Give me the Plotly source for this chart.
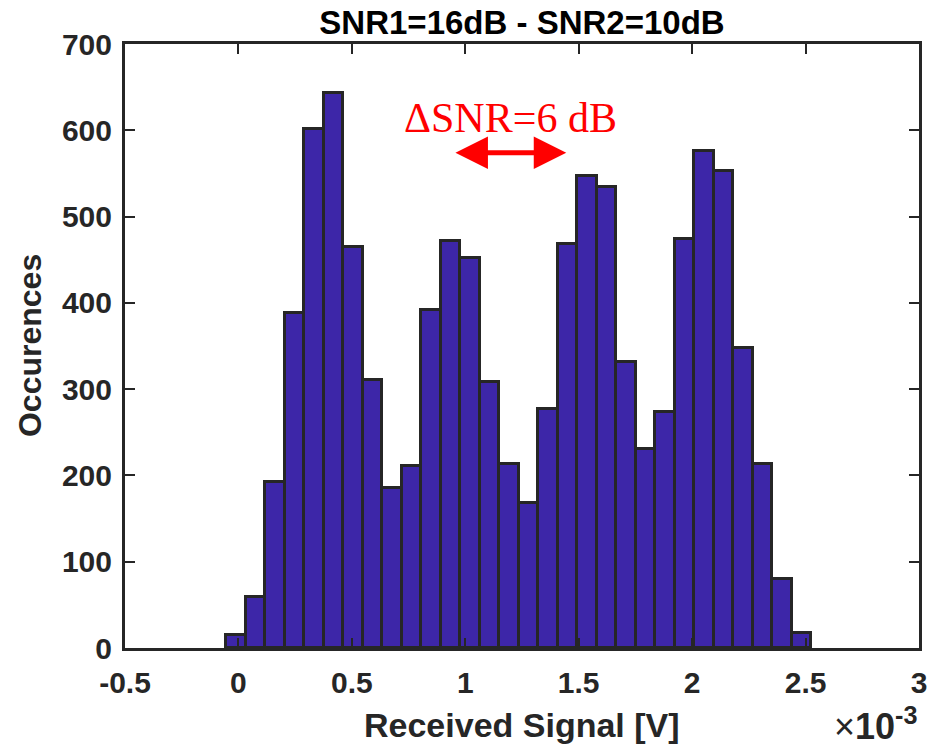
import plotly.graph_objs as go

# histogram counts, x in units of 1e-3 V
counts = [15, 59, 192, 388, 601, 643, 465, 311, 186, 211,
          392, 472, 452, 308, 213, 168, 277, 468, 547, 534,
          332, 231, 273, 474, 576, 553, 348, 213, 80, 17]
bin_start = -0.053
bin_width = 0.0859

x_ticks = [-0.5, 0, 0.5, 1, 1.5, 2, 2.5, 3]
x_ticklabels = ['-0.5', '0', '0.5', '1', '1.5', '2', '2.5', '3']
y_ticks = [0, 100, 200, 300, 400, 500, 600, 700]

title_txt = 'SNR1=16dB - SNR2=10dB'
xlabel = 'Received Signal [V]'
ylabel = 'Occurences'
delta_txt = '\u0394SNR=6 dB'
arrow_x = [0.95, 1.445]
arrow_y = 574
delta_y = 614

centers = [bin_start + bin_width * (i + 0.5) for i in range(len(counts))]

AX = '#262626'
FONT = 'Liberation Sans, Arial, sans-serif'

fig = go.Figure()
fig.add_trace(go.Bar(
    x=centers, y=counts, width=bin_width,
    marker=dict(color='#3D26A8', line=dict(color=AX, width=3)),
    showlegend=False,
))

# delta SNR arrow + label
fig.add_annotation(x=arrow_x[1], y=arrow_y, ax=arrow_x[0], ay=arrow_y,
                   xref='x', yref='y', axref='x', ayref='y',
                   text='', showarrow=True, arrowhead=2, arrowside='end+start',
                   arrowsize=1.3, arrowwidth=5, arrowcolor='#FF0000')
fig.add_annotation(x=sum(arrow_x) / 2, y=delta_y, xref='x', yref='y',
                   text=delta_txt, showarrow=False, xanchor='center', yanchor='middle',
                   font=dict(family='Liberation Serif, Times New Roman, serif',
                             size=42, color='#FF0000'))

fig.add_annotation(x=0.5, y=-0.1275, xref='paper', yref='paper',
                   text=xlabel, showarrow=False, xanchor='center', yanchor='middle',
                   font=dict(family=FONT, size=34, color=AX, weight='bold'))
fig.add_annotation(x=-0.1196, y=0.5, xref='paper', yref='paper',
                   text=ylabel, showarrow=False, textangle=-90,
                   xanchor='center', yanchor='middle',
                   font=dict(family=FONT, size=32, color=AX, weight='bold'))
fig.add_annotation(x=1.0, y=-0.167, xref='paper', yref='paper',
                   text='\u00d7<b>10<sup>-3</sup></b>', showarrow=False,
                   xanchor='right', yanchor='bottom',
                   font=dict(family=FONT, size=36, color=AX))

fig.update_layout(
    width=930, height=751,
    margin=dict(l=125, r=11, t=44, b=103),
    plot_bgcolor='white', paper_bgcolor='white',
    title=dict(text=title_txt, x=0.5, xref='paper', xanchor='center',
               y=0.9707, yanchor='middle',
               font=dict(family=FONT, size=33, color='black', weight='bold')),
    bargap=0,
    font=dict(family=FONT, color=AX),
)
fig.update_xaxes(range=[-0.5, 3], tickvals=x_ticks, ticktext=x_ticklabels,
                 ticks='inside', ticklen=10, tickwidth=2, tickcolor=AX,
                 showline=True, linewidth=3, linecolor=AX, mirror='ticks',
                 showgrid=False, zeroline=False, ticklabelstandoff=6,
                 automargin=False,
                 tickfont=dict(family=FONT, size=30, color=AX, weight='bold'))
fig.update_yaxes(range=[0, 700], tickvals=y_ticks,
                 ticks='inside', ticklen=10, tickwidth=2, tickcolor=AX,
                 showline=True, linewidth=3, linecolor=AX, mirror='ticks',
                 showgrid=False, zeroline=False, ticklabelstandoff=4,
                 automargin=False,
                 tickfont=dict(family=FONT, size=30, color=AX, weight='bold'))

# drop the default 8px page margin so the 930x751 figure fills the window
fig.write_html("out.html", config={'displayModeBar': False},
               post_script="document.body.style.margin='0';")
